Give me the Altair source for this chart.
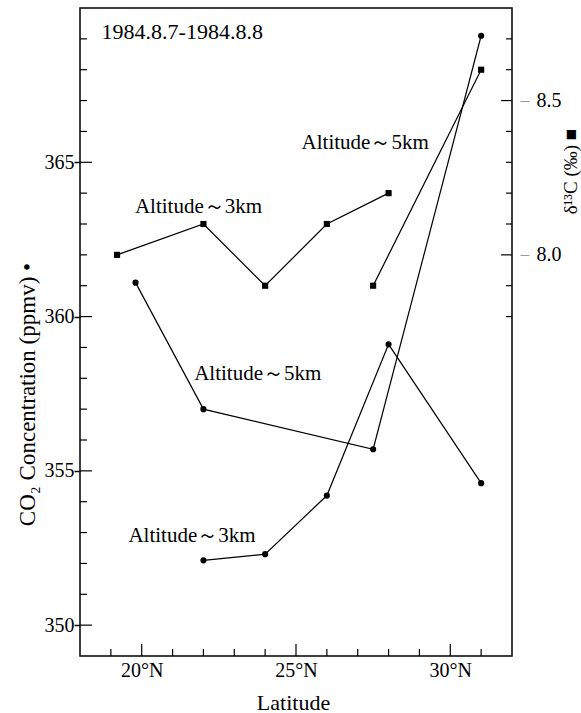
import altair as alt
import pandas as pd

# ---- data ----
lat_co2_5km = [19.8, 22.0, 27.5, 31.0]
co2_5km = [361.1, 357.0, 355.7, 369.1]
lat_co2_3km = [22.0, 24.0, 26.0, 28.0, 31.0]
co2_3km = [352.1, 352.3, 354.2, 359.1, 354.6]

lat_d13c_3km = [19.2, 22.0, 24.0, 26.0, 28.0]
d13c_3km = [8.0, 8.1, 7.9, 8.1, 8.2]
lat_d13c_5km = [27.5, 31.0]
d13c_5km = [7.9, 8.6]

x_major = [20, 25, 30]
x_minor = [19, 21, 22, 23, 24, 26, 27, 28, 29, 31]
y_major = [350, 355, 360, 365]
y_minor = [351, 352, 353, 354, 356, 357, 358, 359, 361, 362, 363, 364, 366, 367, 368, 369]
d_major = [8.0, 8.5]
d_minor = [7.8, 7.9, 8.1, 8.2, 8.3, 8.4, 8.6, 8.7]

date_text = ["1984.8.7-1984.8.8"]
date_lat = [18.70]
date_co2 = [369.23]

note_text = ["Altitude～5km", "Altitude～3km", "Altitude～5km", "Altitude～3km"]
note_lat = [25.18, 19.78, 21.70, 19.57]
note_co2 = [365.63, 363.56, 358.13, 352.90]

FONT = "Liberation Serif"
W, H = 432, 648

xs = alt.Scale(domain=[18, 32], nice=False, zero=False)
ys = alt.Scale(domain=[349, 370], nice=False, zero=False)
ds = alt.Scale(domain=[6.7, 8.8], nice=False, zero=False)

co2 = pd.DataFrame({
    "lat": lat_co2_5km + lat_co2_3km,
    "co2": co2_5km + co2_3km,
    "series": ["5km"] * len(co2_5km) + ["3km"] * len(co2_3km),
})
d13 = pd.DataFrame({
    "lat": lat_d13c_3km + lat_d13c_5km,
    "d": d13c_3km + d13c_5km,
    "series": ["3km"] * len(d13c_3km) + ["5km"] * len(d13c_5km),
})
notes = pd.DataFrame({"t": note_text, "lat": note_lat, "co2": note_co2})
dates = pd.DataFrame({"t": date_text, "lat": date_lat, "co2": date_co2})

x_axis = alt.Axis(values=x_major, labelExpr="datum.value + '°N'", ticks=False, domain=False, grid=False,
                  labelFont=FONT, labelFontSize=20, labelPadding=4, labelColor="black",
                  title="Latitude", titleFont=FONT, titleFontSize=22, titleFontWeight="normal",
                  titleColor="black", titleX=213, titleY=46, titleBaseline="middle", titleAlign="center")
y_axis = alt.Axis(values=y_major, tickSize=6, tickColor="black", tickWidth=1.5, domain=False, grid=False,
                  labelFont=FONT, labelFontSize=20, labelPadding=0, labelColor="black",
                  title="CO₂  Concentration  (ppmv)  •", titleFont=FONT, titleFontSize=23,
                  titleFontWeight="normal", titleColor="black", titleX=-53, titleY=386,
                  titleAlign="center", titleBaseline="middle", titleAngle=270)
d_axis = alt.Axis(orient="right", values=d_major, format=".1f", tickSize=17, tickColor="#999999",
                  tickWidth=1, tickDash=[0, 8, 9, 100], domain=False, grid=False,
                  labelFont=FONT, labelFontSize=20, labelPadding=7, labelColor="black",
                  title="δ¹³C (‰) ■", titleFont=FONT, titleFontSize=19, titleFontWeight="normal",
                  titleColor="black", titleX=58, titleY=163, titleAlign="center",
                  titleBaseline="middle", titleAngle=270)

X = lambda f: alt.X(f, scale=xs, axis=x_axis)
Y = lambda f: alt.Y(f, scale=ys, axis=y_axis)
D = lambda f: alt.Y(f, scale=ds, axis=d_axis)

co2_lines = alt.Chart(co2).mark_line(color="black", strokeWidth=1.2).encode(
    x=X("lat:Q"), y=Y("co2:Q"), detail="series:N")
co2_pts = alt.Chart(co2).mark_point(shape="circle", filled=True, size=38, color="black", opacity=1).encode(
    x=X("lat:Q"), y=Y("co2:Q"))
txt = alt.Chart(notes).mark_text(font=FONT, fontSize=21, align="left", baseline="middle", color="black").encode(
    x=X("lat:Q"), y=Y("co2:Q"), text="t:N")
date_txt = alt.Chart(dates).mark_text(font=FONT, fontSize=22, align="left", baseline="middle", color="black").encode(
    x=X("lat:Q"), y=Y("co2:Q"), text="t:N")

def xticks(vals, ln):
    return alt.Chart(pd.DataFrame({"lat": vals})).mark_rule(color="black", strokeWidth=1.2).encode(
        x=X("lat:Q"), y=alt.value(H), y2=alt.value(H - ln))

def yticks(vals, ln):
    return alt.Chart(pd.DataFrame({"co2": vals})).mark_rule(color="black", strokeWidth=1.2).encode(
        y=Y("co2:Q"), x=alt.value(0), x2=alt.value(ln))

def dticks(vals, ln):
    return alt.Chart(pd.DataFrame({"d": vals})).mark_rule(color="black", strokeWidth=1.2).encode(
        y=D("d:Q"), x=alt.value(W), x2=alt.value(W - ln))

layer_a = alt.layer(co2_lines, co2_pts, txt, date_txt,
                    xticks(x_major, 12), xticks(x_minor, 7),
                    yticks(y_major, 12), yticks(y_minor, 7))

d_lines = alt.Chart(d13).mark_line(color="black", strokeWidth=1.2).encode(
    x=X("lat:Q"), y=D("d:Q"), detail="series:N")
d_pts = alt.Chart(d13).mark_point(shape="square", filled=True, size=38, color="black", opacity=1).encode(
    x=X("lat:Q"), y=D("d:Q"))
layer_b = alt.layer(d_lines, d_pts, dticks(d_major, 11), dticks(d_minor, 6))

chart = alt.layer(layer_a, layer_b).resolve_scale(y="independent").properties(
    width=W, height=H, autosize="none",
    padding={"left": 80, "top": 8, "right": 69, "bottom": 57},
    background="white",
).configure_view(stroke="black", strokeWidth=1.5)

chart.save("out.html", embed_options={"renderer": "svg", "actions": False})
